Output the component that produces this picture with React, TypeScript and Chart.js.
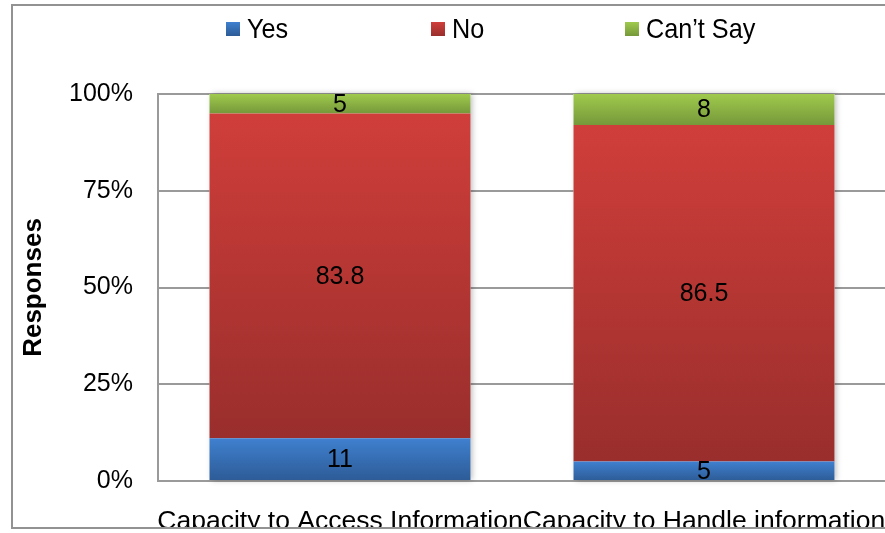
import React, { useEffect, useRef } from 'react';
import { Chart, registerables } from 'chart.js';

Chart.register(...registerables);

const categories = ['Capacity to Access Information', 'Capacity to Handle information'];
const seriesNames = ['Yes', 'No', 'Can\u2019t Say'];
const yesValues = [11, 5];
const noValues = [83.8, 86.5];
const cantSayValues = [5, 8];
const yTickValues = [0, 25, 50, 75, 100];

const seriesValues = [yesValues, noValues, cantSayValues];
// each column is shown as a share of its own total (100% stacked)
const totals = categories.map((_, i) => seriesValues.reduce((s, arr) => s + arr[i], 0));
const seriesShares = seriesValues.map((arr) => arr.map((v, i) => (v / totals[i]) * 100));

// [top, bottom] colour of each series' vertical gradient
const seriesShades: string[][] = [
  ['#3f80cf', '#2d5b96'],
  ['#d03e3a', '#992e2c'],
  ['#9fca4d', '#76983a'],
];

const FONT = '"Liberation Sans", Arial, Helvetica, sans-serif';
const AXIS_GREY = '#9a9a9a';

function segmentFill(series: number) {
  return (ctx: any) => {
    const chart = ctx.chart;
    const [top, bottom] = seriesShades[series];
    const y = chart.scales && chart.scales.y;
    if (ctx.type !== 'data' || !y || !chart.chartArea) return bottom;
    const i = ctx.dataIndex;
    let start = 0;
    for (let s = 0; s < series; s++) start += seriesShares[s][i];
    const end = start + seriesShares[series][i];
    const g = chart.ctx.createLinearGradient(0, y.getPixelForValue(end), 0, y.getPixelForValue(start));
    g.addColorStop(0, top);
    g.addColorStop(1, bottom);
    return g;
  };
}

// soft drop shadow behind each full column
const columnShadow = {
  id: 'columnShadow',
  beforeDatasetsDraw(chart: any) {
    const first = chart.getDatasetMeta(0).data;
    const last = chart.getDatasetMeta(seriesValues.length - 1).data;
    const ctx = chart.ctx;
    ctx.save();
    ctx.shadowColor = 'rgba(0,0,0,0.28)';
    ctx.shadowBlur = 6;
    ctx.shadowOffsetX = 2;
    ctx.shadowOffsetY = 0;
    ctx.fillStyle = '#ffffff';
    first.forEach((el: any, i: number) => {
      const b = el.getProps(['x', 'base', 'width'], true);
      const t = last[i].getProps(['y'], true);
      ctx.fillRect(b.x - b.width / 2, t.y, b.width, b.base - t.y);
    });
    ctx.restore();
  },
};

// raw response values written in the middle of each segment
const segmentValues = {
  id: 'segmentValues',
  afterDatasetsDraw(chart: any) {
    const ctx = chart.ctx;
    ctx.save();
    ctx.fillStyle = '#000000';
    ctx.font = `25px ${FONT}`;
    ctx.textAlign = 'center';
    ctx.textBaseline = 'middle';
    seriesValues.forEach((arr, s) => {
      chart.getDatasetMeta(s).data.forEach((el: any, i: number) => {
        const p = el.getProps(['x', 'y', 'base'], true);
        ctx.fillText(String(arr[i]), p.x, (p.y + p.base) / 2 + 1);
      });
    });
    ctx.restore();
  },
};

// series key along the top and the outer frame
const legendXs = [226, 431, 625];
const keyAndFrame = {
  id: 'keyAndFrame',
  afterDraw(chart: any) {
    const ctx = chart.ctx;
    ctx.save();
    ctx.fillStyle = '#ffffff';
    ctx.fillRect(0, 529, chart.width, chart.height - 529);

    seriesNames.forEach((name, s) => {
      const x = legendXs[s];
      const g = ctx.createLinearGradient(0, 22, 0, 36);
      g.addColorStop(0, seriesShades[s][0]);
      g.addColorStop(1, seriesShades[s][1]);
      ctx.fillStyle = g;
      ctx.fillRect(x, 22, 14, 14);
      ctx.save();
      ctx.translate(x + 21, 38);
      ctx.scale(0.9, 1);
      ctx.fillStyle = '#000000';
      ctx.font = `28px ${FONT}`;
      ctx.textAlign = 'left';
      ctx.textBaseline = 'alphabetic';
      ctx.fillText(name, 0, 0);
      ctx.restore();
    });

    ctx.strokeStyle = '#929292';
    ctx.lineWidth = 2;
    ctx.beginPath();
    ctx.moveTo(chart.width + 5, 5);
    ctx.lineTo(12, 5);
    ctx.lineTo(12, 528);
    ctx.lineTo(chart.width + 5, 528);
    ctx.stroke();
    ctx.restore();
  },
};

export default function App() {
  const canvasRef = useRef<HTMLCanvasElement | null>(null);

  useEffect(() => {
    const canvas = canvasRef.current;
    if (!canvas) return;
    const chart = new Chart(canvas, {
      type: 'bar',
      data: {
        labels: categories,
        datasets: seriesNames.map((name, s) => ({
          label: name,
          data: seriesShares[s],
          backgroundColor: segmentFill(s),
          borderWidth: 0,
          barPercentage: 0.717,
          categoryPercentage: 1,
        })),
      },
      options: {
        responsive: false,
        animation: false,
        devicePixelRatio: 1,
        layout: { padding: { top: 94, right: 9, bottom: 0, left: 0 } },
        plugins: {
          legend: { display: false },
          tooltip: { enabled: false },
        },
        scales: {
          x: {
            stacked: true,
            grid: { display: false, drawTicks: false },
            border: { display: true, color: AXIS_GREY, width: 2 },
            ticks: {
              autoSkip: false,
              maxRotation: 0,
              minRotation: 0,
              padding: 25,
              color: '#000000',
              font: { family: FONT, size: 26.5 },
            },
            afterFit: (scale: any) => {
              scale.height = 52;
              scale.paddingLeft = 0;
              scale.paddingRight = 0;
            },
          },
          y: {
            stacked: true,
            min: 0,
            max: 100,
            afterBuildTicks: (scale: any) => {
              scale.ticks = yTickValues.map((v) => ({ value: v }));
            },
            grid: { color: AXIS_GREY, lineWidth: 2, drawTicks: false },
            border: { display: true, color: AXIS_GREY, width: 2 },
            ticks: {
              padding: 25,
              color: '#000000',
              font: { family: FONT, size: 25 },
              callback: (v: any) => `${v}%`,
            },
            title: {
              display: true,
              text: 'Responses',
              color: '#000000',
              font: { family: FONT, size: 26, weight: 'bold' },
              padding: { top: 18, bottom: 0 },
            },
            afterFit: (scale: any) => {
              scale.width = 158;
            },
          },
        },
      },
      plugins: [columnShadow, segmentValues, keyAndFrame],
    });
    return () => chart.destroy();
  }, []);

  return (
    <div
      style={{
        position: 'fixed',
        left: 0,
        top: 0,
        width: 885,
        height: 533,
        overflow: 'hidden',
        background: '#ffffff',
      }}
    >
      <canvas ref={canvasRef} width={895} height={533} style={{ display: 'block', width: 895, height: 533 }} />
    </div>
  );
}
